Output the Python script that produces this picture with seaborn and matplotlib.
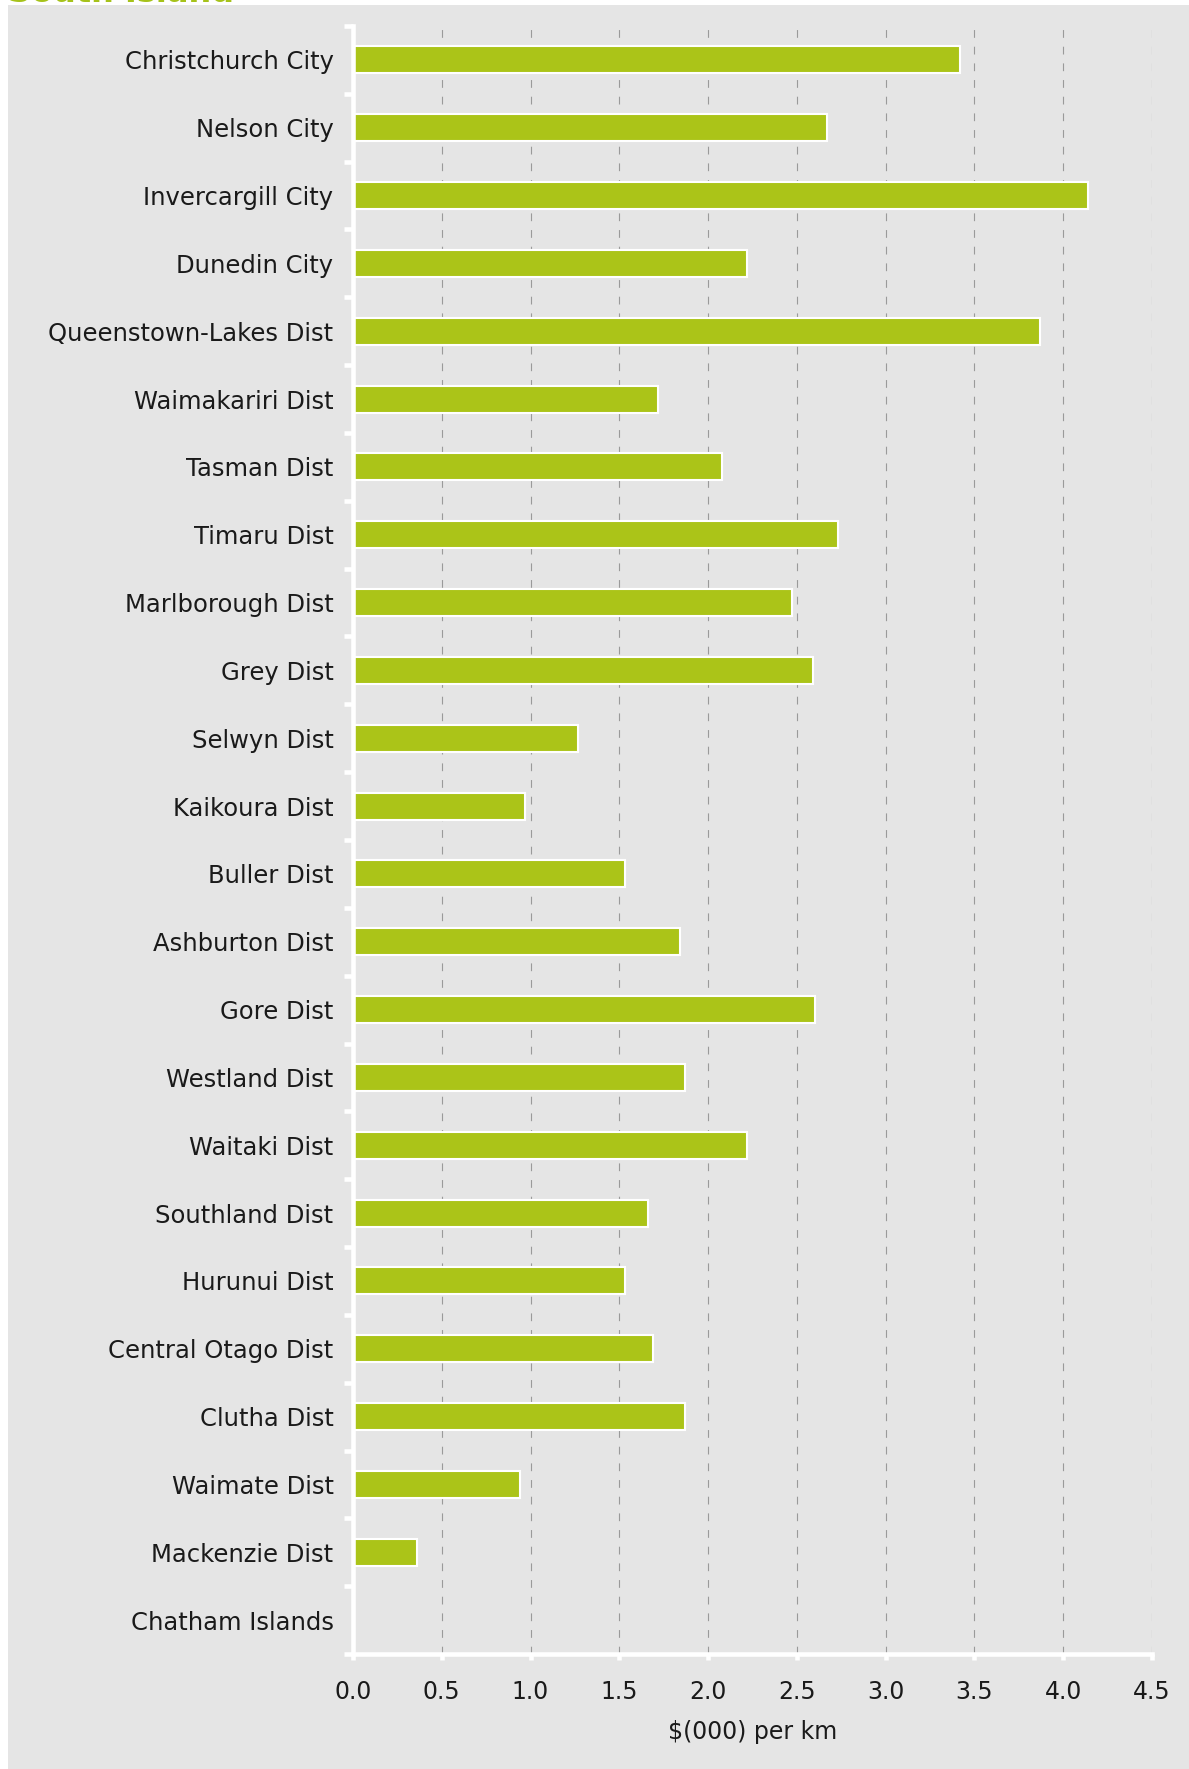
import numpy as np
import pandas as pd
import matplotlib
matplotlib.use("Agg")
import matplotlib.pyplot as plt
from matplotlib.patches import Rectangle
import seaborn as sns

districts = ["Christchurch City", "Nelson City", "Invercargill City", "Dunedin City",
             "Queenstown-Lakes Dist", "Waimakariri Dist", "Tasman Dist", "Timaru Dist",
             "Marlborough Dist", "Grey Dist", "Selwyn Dist", "Kaikoura Dist",
             "Buller Dist", "Ashburton Dist", "Gore Dist", "Westland Dist",
             "Waitaki Dist", "Southland Dist", "Hurunui Dist", "Central Otago Dist",
             "Clutha Dist", "Waimate Dist", "Mackenzie Dist", "Chatham Islands"]
cost_per_km = [3.42, 2.67, 4.14, 2.22, 3.87, 1.72, 2.08, 2.73, 2.47, 2.59, 1.27, 0.97,
               1.53, 1.84, 2.60, 1.87, 2.22, 1.66, 1.53, 1.69, 1.87, 0.94, 0.36, 0.0]
x_ticks = [0.0, 0.5, 1.0, 1.5, 2.0, 2.5, 3.0, 3.5, 4.0, 4.5]

df = pd.DataFrame({"district": districts, "cost": cost_per_km})

bg = "#e5e5e5"
green = "#abc418"
txt = "#1a1a1a"

sns.set_theme(style="white")
plt.rcParams["font.family"] = ["DejaVu Sans"]

W, H = 1189, 1769
fig = plt.figure(figsize=(W / 100, H / 100), dpi=100, facecolor="white")
# grey panel behind the chart
fig.patches.append(Rectangle((8 / W, 0), 1, 1 - 5 / H, transform=fig.transFigure,
                             facecolor=bg, edgecolor="none", zorder=-5))
# title sits mostly above the top edge, only its foot shows
fig.text(8 / W, 1 - 2.5 / H, "South Island", color="#a6c21a", fontsize=23,
         fontweight="bold", va="baseline", ha="left", zorder=-6)

ax = fig.add_axes([353 / W, 1 - 1654 / H, (1152 - 353) / W, (1654 - 26) / H])
ax.set_facecolor(bg)

sns.barplot(data=df, y="district", x="cost", color=green, orient="h", width=0.4,
            saturation=1, edgecolor="white", linewidth=1.5, ax=ax, zorder=3)

ax.set_xlim(0, 4.5)
ax.set_ylim(23.5, -0.5)
ax.set_xticks(x_ticks)
ax.set_xticklabels([f"{t:.1f}" for t in x_ticks])
ax.set_yticks(np.arange(len(districts)))
ax.set_yticklabels(districts)
ax.set_yticks(np.arange(-0.5, len(districts), 1.0), minor=True)

for t in x_ticks[1:]:
    ax.axvline(t, color="#9a9a9a", lw=0.8, ls=(0, (7, 8)), zorder=1)

for side in ["top", "right"]:
    ax.spines[side].set_visible(False)
for side in ["left", "bottom"]:
    ax.spines[side].set_color("white")
    ax.spines[side].set_linewidth(3.3)
    ax.spines[side].set_zorder(4)

ax.tick_params(axis="y", which="major", left=True, length=0, pad=14,
               labelsize=17.5, labelcolor=txt)
ax.tick_params(axis="y", which="minor", left=True, length=6.5, width=3.3,
               color="white", direction="out")
ax.tick_params(axis="x", which="major", bottom=True, length=4.5, width=3.3,
               color="white", direction="out", pad=14, labelsize=17, labelcolor=txt)

ax.set_ylabel("")
ax.set_xlabel("$(000) per km", fontsize=17, color=txt, labelpad=12)

fig.savefig("out.png", dpi=100, facecolor="white")
